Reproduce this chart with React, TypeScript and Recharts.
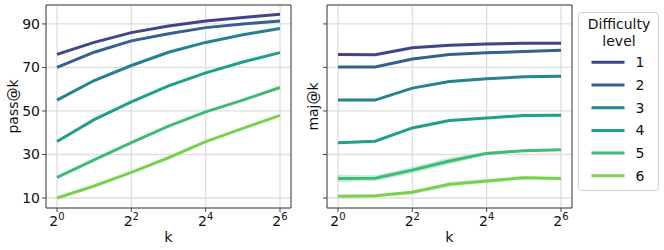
import React from 'react';
import { ComposedChart, Line, Area, XAxis, YAxis, CartesianGrid, ReferenceArea } from 'recharts';

const FONT = "'DejaVu Sans', sans-serif";

const kExponents = [0, 1, 2, 3, 4, 5, 6];
const levels = ['1', '2', '3', '4', '5', '6'];
const colors = ['#414487', '#34618d', '#26828e', '#1fa088', '#3fbc73', '#7ad151'];

// pass@k per difficulty level (k = 2^0 .. 2^6)
const pass1 = [76, 81.5, 86, 89, 91.3, 93, 94.5];
const pass2 = [70, 77, 82.2, 85.5, 88.3, 90, 91.3];
const pass3 = [55, 64, 70.9, 77, 81.5, 85, 87.9];
const pass4 = [36, 46, 54.2, 61.5, 67.5, 72.5, 76.8];
const pass5 = [19.5, 27.5, 35.4, 43, 49.6, 55, 60.8];
const pass6 = [10, 15.5, 21.8, 28.5, 35.9, 42, 48];

// maj@k per difficulty level
const maj1 = [76, 75.8, 79, 80.2, 80.8, 81.1, 81.1];
const maj2 = [70.2, 70.2, 73.9, 75.9, 76.8, 77.3, 77.9];
const maj3 = [55, 55, 60.5, 63.5, 64.8, 65.7, 66];
const maj4 = [35.4, 36.1, 42.2, 45.6, 46.8, 47.9, 48];
const maj5 = [19, 19.1, 22.8, 27, 30.5, 31.7, 32.2];
const maj6 = [10.8, 11, 12.6, 16.3, 17.8, 19.3, 19];

// maj@k spread (half-width of shaded band)
const spread1 = [0.3, 0.3, 0.3, 0.3, 0.3, 0.3, 0.3];
const spread2 = [0.3, 0.3, 0.3, 0.3, 0.3, 0.3, 0.3];
const spread3 = [0.5, 0.5, 0.4, 0.3, 0.3, 0.3, 0.3];
const spread4 = [0.5, 0.6, 0.5, 0.5, 0.4, 0.3, 0.3];
const spread5 = [1.7, 1.3, 1.5, 1.6, 0.7, 0.5, 0.4];
const spread6 = [0.6, 0.6, 0.9, 1.1, 1.0, 0.8, 0.5];

const yTicks = [10, 30, 50, 70, 90];
const xTicks = [0, 2, 4, 6];

const passSeries = [pass1, pass2, pass3, pass4, pass5, pass6];
const majSeries = [maj1, maj2, maj3, maj4, maj5, maj6];
const spreadSeries = [spread1, spread2, spread3, spread4, spread5, spread6];

const passData = kExponents.map((e, i) => {
  const row: any = { e };
  passSeries.forEach((s, j) => { row['l' + (j + 1)] = s[i]; });
  return row;
});

const majData = kExponents.map((e, i) => {
  const row: any = { e };
  majSeries.forEach((s, j) => {
    row['l' + (j + 1)] = s[i];
    row['b' + (j + 1)] = [s[i] - spreadSeries[j][i], s[i] + spreadSeries[j][i]];
  });
  return row;
});

const X_DOMAIN: [number, number] = [-0.296, 6.296];
const Y_DOMAIN: [number, number] = [5.4, 98.7];

const PowTick = (props: any) => {
  const { x, y, payload } = props;
  return (
    <text x={x} y={y} textAnchor="middle" fontFamily={FONT} fill="#111">
      <tspan dy={11.5} fontSize={14}>2</tspan>
      <tspan dy={-5.5} fontSize={10}>{payload.value}</tspan>
    </text>
  );
};

const makeYLabel = (text: string, baselineX: number) => (props: any) => {
  const vb = props.viewBox || { x: 0, y: 5, width: 46, height: 203 };
  const cy = vb.y + vb.height / 2;
  const cx = vb.x + baselineX;
  return (
    <text transform={`translate(${cx},${cy}) rotate(-90)`} textAnchor="middle" fontSize={14} fontFamily={FONT} fill="#111">
      {text}
    </text>
  );
};

const xLabel = (props: any) => {
  const vb = props.viewBox || { x: 46, y: 208, width: 245, height: 42 };
  return (
    <text x={vb.x + vb.width / 2} y={242} textAnchor="middle" fontSize={14.5} fontFamily={FONT} fill="#111">
      k
    </text>
  );
};

const MARGIN = { top: 5, right: 9, left: 0, bottom: 0 };

function Panel({ data, label, labelX, showYLabels, bands }: any) {
  return (
    <ComposedChart width={300} height={250} data={data} margin={MARGIN}>
      <CartesianGrid stroke="#dedede" strokeWidth={1.3} />
      <XAxis
        dataKey="e"
        type="number"
        domain={X_DOMAIN}
        ticks={xTicks}
        allowDataOverflow
        height={42}
        axisLine={false}
        tickLine={{ stroke: '#444' }}
        tickSize={4}
        tickMargin={2}
        tick={<PowTick />}
        label={{ content: xLabel }}
      />
      <YAxis
        type="number"
        domain={Y_DOMAIN}
        ticks={yTicks}
        allowDataOverflow
        width={46}
        axisLine={false}
        tickLine={{ stroke: '#444' }}
        tickSize={4}
        tickMargin={2}
        tick={{ fill: '#111', fontSize: 14, fontFamily: FONT }}
        tickFormatter={showYLabels ? undefined : () => ''}
        label={{ content: makeYLabel(label, labelX) }}
      />
      {bands &&
        levels.map((lv, j) => (
          <Area
            key={'b' + lv}
            dataKey={'b' + (j + 1)}
            type="linear"
            stroke="none"
            fill={colors[j]}
            fillOpacity={0.28}
            isAnimationActive={false}
            legendType="none"
            activeDot={false}
          />
        ))}
      {levels.map((lv, j) => (
        <Line
          key={'l' + lv}
          dataKey={'l' + (j + 1)}
          name={lv}
          type="linear"
          stroke={colors[j]}
          strokeWidth={3}
          dot={false}
          activeDot={false}
          isAnimationActive={false}
        />
      ))}
      <ReferenceArea
        x1={X_DOMAIN[0]}
        x2={X_DOMAIN[1]}
        y1={Y_DOMAIN[0]}
        y2={Y_DOMAIN[1]}
        fill="none"
        fillOpacity={0}
        stroke="#444"
        strokeWidth={1}
        ifOverflow="visible"
      />
    </ComposedChart>
  );
}

function LegendBox() {
  const itemY = [50.3, 73, 95.7, 118.4, 141.1, 163.8];
  return (
    <svg width={82} height={180} style={{ position: 'absolute', left: 578, top: 12 }}>
      <rect x={0.5} y={0.5} width={80} height={178} rx={3} fill="#fff" stroke="#d0d0d0" />
      <text x={41} y={17} textAnchor="middle" fontSize={14} fontFamily={FONT} fill="#111">Difficulty</text>
      <text x={41} y={34} textAnchor="middle" fontSize={14} fontFamily={FONT} fill="#111">level</text>
      {levels.map((lv, j) => (
        <g key={lv}>
          <line x1={13.5} x2={46.5} y1={itemY[j]} y2={itemY[j]} stroke={colors[j]} strokeWidth={3} />
          <text x={62} y={itemY[j] + 5} textAnchor="middle" fontSize={14} fontFamily={FONT} fill="#111">{lv}</text>
        </g>
      ))}
    </svg>
  );
}

export default function App() {
  return (
    <div style={{ position: 'absolute', left: 0, top: 0, width: 664, height: 250, background: '#fff' }}>
      <div style={{ position: 'absolute', left: 0, top: 0 }}>
        <Panel data={passData} label="pass@k" labelX={18} showYLabels={true} bands={false} />
      </div>
      <div style={{ position: 'absolute', left: 281, top: 0 }}>
        <Panel data={majData} label="maj@k" labelX={37} showYLabels={false} bands={true} />
      </div>
      <LegendBox />
    </div>
  );
}
